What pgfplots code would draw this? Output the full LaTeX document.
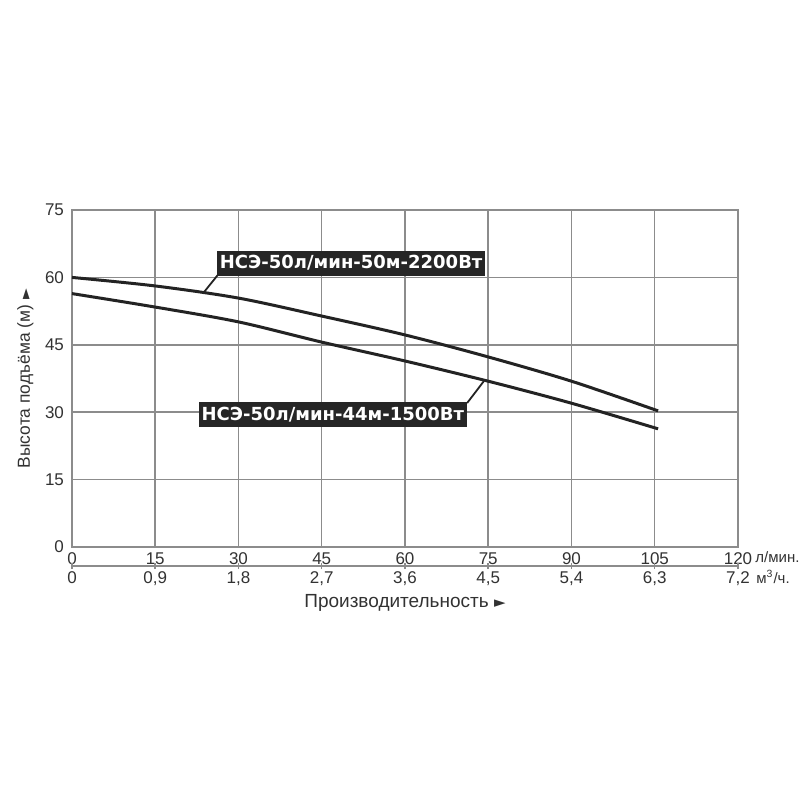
\documentclass[border=0pt]{standalone}
\usepackage{fontspec}
\setmainfont{Liberation Sans}
\newfontfamily\labfont{DejaVu Sans}
\usepackage{pgfplots}
\pgfplotsset{compat=1.18}
\definecolor{gridg}{RGB}{140,140,140}
\definecolor{curve}{RGB}{35,35,35}
\definecolor{txt}{RGB}{50,50,50}
\begin{document}
\begin{tikzpicture}
\path[use as bounding box] (-36pt,-126.5pt) rectangle (364pt,273.5pt);
\begin{axis}[
  at={(0,0)}, anchor=south west,
  scale only axis, width=333pt, height=168.5pt,
  xmin=0, xmax=120, ymin=0, ymax=75,
  xtick={0,15,...,120}, ytick={0,15,...,75},
  grid=major, grid style={gridg, line width=0.75pt},
  axis line style={gridg, line width=0.75pt},
  major tick length=0pt,
  tick label style={font=\fontsize{8.5}{10}\selectfont, text=txt},
  /pgf/number format/assume math mode=true,
  xticklabel style={yshift=0.5pt},
  yticklabel style={xshift=-0.5pt},
  clip=false,
  ylabel={Высота подъёма (м) {\labfont\fontsize{7}{8}\selectfont ►}},
  ylabel style={at={(axis description cs:-0.07,0.5)}, anchor=center, font=\fontsize{8.7}{10}\selectfont, text=txt},
  xlabel={Производительность {\labfont\fontsize{7.5}{8}\selectfont ►}},
  xlabel style={at={(axis description cs:0.5,-0.166)}, anchor=center, font=\fontsize{9.5}{11}\selectfont, text=txt},
]
\addplot[curve, line width=1.5pt, smooth] coordinates {
 (0,60) (15,58.1) (30,55.4) (45,51.4) (60,47.2) (75,42.3) (90,36.9) (105.6,30.3)};
\addplot[curve, line width=1.5pt, smooth] coordinates {
 (0,56.4) (15,53.4) (30,50.1) (45,45.6) (60,41.4) (75,36.9) (90,32.0) (105.6,26.3)};
\draw[curve, line width=0.9pt] (axis cs:26.7,61.2) -- (axis cs:23.8,56.75);
\draw[curve, line width=0.9pt] (axis cs:71.2,32.05) -- (axis cs:74.2,36.9);
\node[fill=black!85, text=white, font=\labfont\bfseries\fontsize{9}{11}\selectfont, inner xsep=1.5pt, inner ysep=2.5pt] at (axis cs:50.3,63.2) {НСЭ-50л/мин-50м-2200Вт};
\node[fill=black!85, text=white, font=\labfont\bfseries\fontsize{9}{11}\selectfont, inner xsep=1.5pt, inner ysep=2.5pt] at (axis cs:47.0,29.4) {НСЭ-50л/мин-44м-1500Вт};
\node[anchor=west, font=\fontsize{7.5}{9}\selectfont, text=txt, inner sep=0pt] at ([xshift=8.5pt,yshift=-5pt]rel axis cs:1,0) {л/мин.};
\node[anchor=west, font=\fontsize{7.5}{9}\selectfont, text=txt, inner sep=0pt] at ([xshift=9pt,yshift=-15pt]rel axis cs:1,0) {м\textsuperscript{3}/ч.};
\end{axis}
\begin{axis}[
  at={(0,-9.5pt)}, anchor=south west,
  scale only axis, width=333pt, height=5pt,
  xmin=0, xmax=7.2, ymin=0, ymax=1,
  axis x line*=bottom, axis y line=none,
  xtick={0,0.9,1.8,2.7,3.6,4.5,5.4,6.3,7.2},
  tick label style={font=\fontsize{8.5}{10}\selectfont, text=txt},
  xticklabel style={yshift=2pt, /pgf/number format/use comma, /pgf/number format/fixed, /pgf/number format/precision=1},
  /pgf/number format/assume math mode=true,
  axis line style={gridg, line width=0.75pt},
  tick style={gridg, line width=0.75pt},
  tick align=center, major tick length=3pt,
]
\end{axis}
\end{tikzpicture}
\end{document}
